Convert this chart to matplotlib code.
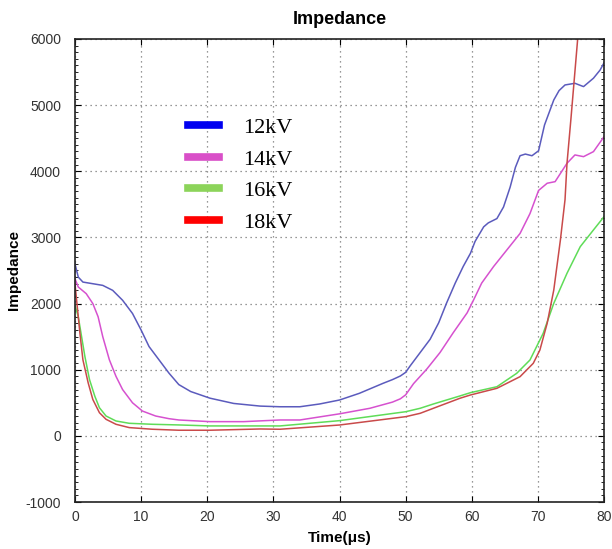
import matplotlib
matplotlib.use("Agg")
import matplotlib.pyplot as plt
from matplotlib.lines import Line2D
from matplotlib.ticker import MultipleLocator

plt.rcParams["axes.unicode_minus"] = False

# Impedance vs time for four charging voltages
t_12 = [0, 0.5, 1.2, 2.7, 4.2, 5.7, 7.2, 8.7, 10, 11.2, 12.7, 14.2, 15.7, 17.5, 20.4,
        24, 28, 31, 34, 37, 40, 43, 46.6, 48, 49.2, 50, 50.7, 52.2, 53.7, 55, 56.2,
        57.5, 58.7, 59.8, 60.5, 61.8, 62.5, 63.8, 64.8, 65.8, 66.6, 67.3, 68.1, 69.1,
        70.1, 71, 72.4, 73.2, 74.1, 75.6, 76.9, 78.4, 79.4, 80]
z_12 = [2600, 2400, 2325, 2300, 2275, 2200, 2050, 1850, 1600, 1350, 1150, 950, 775,
        670, 570, 490, 450, 440, 440, 482, 542, 643, 795, 850, 905, 960, 1060, 1260,
        1460, 1710, 2010, 2310, 2560, 2760, 2940, 3160, 3220, 3285, 3460, 3760, 4060,
        4235, 4260, 4235, 4310, 4700, 5078, 5220, 5305, 5330, 5280, 5407, 5530, 5640]

t_14 = [0, 0.5, 1.7, 2.7, 3.5, 4.2, 5.2, 6.2, 7.2, 8.7, 10.2, 12.2, 14.2, 15.7, 20.4,
        25.5, 31, 34, 40, 44.6, 48, 49.2, 50, 51.2, 53.2, 55.2, 57.2, 59.3, 60.3, 61.5,
        63.3, 65.3, 67.3, 68.8, 70.1, 71.4, 72.6, 74.4, 75.6, 76.9, 78.4, 80]
z_14 = [2375, 2250, 2150, 2000, 1800, 1500, 1150, 900, 700, 500, 375, 300, 260, 240,
        215, 215, 240, 240, 333, 417, 510, 560, 620, 790, 1010, 1260, 1560, 1860, 2060,
        2310, 2560, 2810, 3060, 3360, 3710, 3819, 3843, 4121, 4247, 4221, 4297, 4523]

t_16 = [0, 0.5, 1, 1.5, 2.2, 3, 3.7, 4.7, 6.2, 8.2, 11.7, 15.7, 20.4, 28, 31, 40, 50,
        52.2, 54.2, 58.2, 59.8, 63.8, 66.8, 68.8, 70.8, 72.4, 74.4, 76.4, 78.4, 80]
z_16 = [1975, 1800, 1500, 1200, 850, 600, 425, 300, 225, 190, 175, 165, 150, 150, 150,
        230, 365, 417, 482, 603, 653, 743, 946, 1147, 1551, 2004, 2458, 2860, 3113, 3314]

t_18 = [0, 0.25, 0.75, 1.2, 2, 2.7, 3.7, 4.7, 6.2, 8.2, 11.7, 15.7, 20.4, 28, 31, 40,
        50, 52.2, 54.2, 58.2, 59.8, 63.8, 67.3, 69.3, 70.3, 71.4, 72.4, 73.4, 74.1,
        74.4, 75, 76, 76.6]
z_18 = [2300, 2050, 1550, 1150, 800, 550, 350, 250, 175, 125, 100, 85, 85, 104, 100,
        164, 290, 341, 417, 568, 618, 719, 895, 1097, 1298, 1702, 2205, 2961, 3570,
        4121, 4800, 5985, 6700]

labels = ["12kV", "14kV", "16kV", "18kV"]
line_colors = ["#5b5bbd", "#d651cf", "#5fdc58", "#c94a4a"]
key_colors = ["#0000f0", "#d94fc8", "#8cd45a", "#ff0000"]

fig = plt.figure(figsize=(6.12, 5.49), dpi=100)
ax = fig.add_axes([0.1225, 0.0856, 0.8645, 0.8434])

series = [(t_12, z_12), (t_14, z_14), (t_16, z_16), (t_18, z_18)]
for (t, z), c in zip(series, line_colors):
    ax.plot(t, z, color=c, lw=1.1, solid_joinstyle="round")

ax.set_xlim(0, 80)
ax.set_ylim(-1000, 6000)
ax.xaxis.set_major_locator(MultipleLocator(10))
ax.yaxis.set_major_locator(MultipleLocator(1000))
ax.yaxis.set_minor_locator(MultipleLocator(100))
ax.tick_params(which="both", direction="in", top=True, right=True,
               labelsize=10, labelcolor="#333333")
ax.tick_params(which="major", length=4)
ax.tick_params(which="minor", length=2, top=False, bottom=False)
ax.tick_params(axis="x", pad=6)
ax.tick_params(axis="y", pad=10)
for lbl in ax.get_xticklabels() + ax.get_yticklabels():
    lbl.set_family("Liberation Sans")
ax.grid(True, which="major", linestyle=(0, (1, 3)), color="#777777", lw=0.9)
for s in ax.spines.values():
    s.set_color("#222222")
    s.set_linewidth(1.2)

ax.set_title("Impedance", fontsize=13, fontweight="bold", family="Liberation Sans", pad=11)
ax.set_xlabel("Time(\u03bcs)", fontsize=11, fontweight="bold", family="Liberation Sans", labelpad=5)
ax.set_ylabel("Impedance", fontsize=11, fontweight="bold", family="Liberation Sans", labelpad=3)

handles = [Line2D([0], [0], color=c, lw=5.5) for c in key_colors]
ax.legend(handles, labels, loc="upper left", bbox_to_anchor=(0.192, 0.854),
          frameon=False, prop={"family": "Liberation Serif", "size": 16},
          handlelength=1.43, handletextpad=1.05, labelspacing=0.49, borderpad=0)

fig.savefig("out.png", dpi=100)
